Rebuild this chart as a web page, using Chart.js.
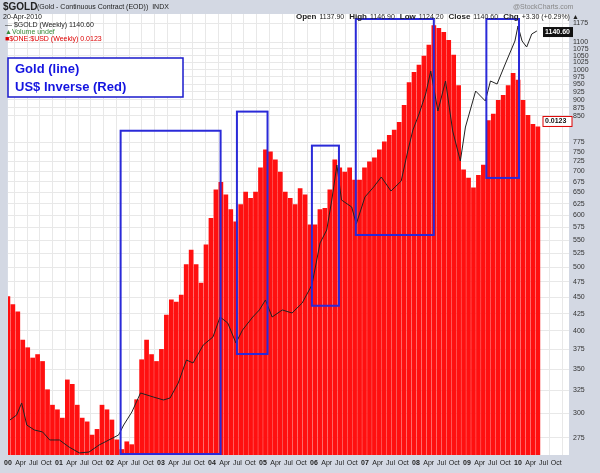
<!DOCTYPE html>
<html><head><meta charset="utf-8">
<script src="https://cdn.jsdelivr.net/npm/chart.js@4"></script>
<style>html,body{margin:0;padding:0;background:#d3d8e3}#w{width:600px;height:473px;position:relative}</style>
</head><body><div id="w"><canvas id="c" width="600" height="473"></canvas></div>
<script>
// Gold weekly close — dates as fractional years
const goldDates = [2000.04,2000.17,2000.27,2000.37,2000.52,2000.68,2000.82,2001.01,2001.20,2001.40,2001.59,2001.79,2001.98,2002.17,2002.27,2002.43,2002.60,2002.85,2003.05,2003.18,2003.34,2003.50,2003.63,2003.83,2004.02,2004.16,2004.31,2004.47,2004.60,2004.80,2004.93,2005.05,2005.18,2005.38,2005.57,2005.77,2005.96,2006.12,2006.25,2006.35,2006.45,2006.54,2006.74,2006.83,2007.00,2007.17,2007.32,2007.51,2007.71,2007.84,2007.94,2008.06,2008.19,2008.29,2008.43,2008.58,2008.72,2008.87,2008.97,2009.17,2009.36,2009.46,2009.59,2009.75,2009.94,2010.00,2010.08,2010.17,2010.27,2010.37];
const goldValues = [292.8,297.9,310.8,287.7,282.7,280.8,273.0,273.0,266.3,260.9,261.7,268.3,273.0,277.8,287.7,301.1,321.9,317.4,314.1,316.3,333.4,361.3,357.6,380.8,391.7,420.1,411.4,383.5,401.4,420.1,430.6,445.9,420.1,430.6,426.0,441.3,470.0,544.6,569.8,633.1,715.6,633.1,617.7,582.0,639.8,662.5,686.2,653.3,676.6,751.7,809.1,855.8,917.9,995.0,864.8,960.7,806.3,725.8,817.6,927.5,895.7,960.7,950.6,1019.6,1105.3,1165,1105.3,1082.2,1132.7,1144.8];
// $ONE:$USD in units of 0.0001, one bar every ~5 weeks from Jan 2000
const usdInvValues = [98.5,97.5,96.6,93.2,92.3,91.1,91.5,90.7,87.5,85.8,85.3,84.4,88.6,88.1,85.8,84.4,84.0,82.6,83.2,85.8,85.3,84.2,82.1,81.1,81.9,81.6,86.4,90.9,93.2,91.5,90.7,92.1,96.2,98.1,97.8,98.7,102.6,104.5,102.6,100.2,105.2,108.8,112.8,113.9,112.1,110.0,108.3,110.7,112.5,111.6,112.5,116.0,118.7,118.4,117.2,115.4,112.5,111.6,110.7,113.0,112.1,107.9,107.9,110.0,110.2,112.8,117.2,116.0,115.4,116.0,114.2,114.2,116.0,116.9,117.5,118.7,119.9,120.9,121.7,122.9,125.6,129.3,131.0,132.2,133.7,135.6,139.0,138.5,137.8,136.4,133.9,128.8,115.7,114.5,113.1,114.9,116.4,123.2,124.2,126.4,127.2,128.8,130.8,129.7,126.4,124.0,122.6,122.2];
const startYear = 2000, redStep = 0.0971;
const redAxisMin = 80.5, redAxisMax = 141.0;
const yearLabels = ["00","01","02","03","04","05","06","07","08","09","10"];
const monthLabels = ["Apr","Jul","Oct"];
const goldTicks = [275,300,325,350,375,400,425,450,475,500,525,550,575,600,625,650,675,700,725,750,775,850,875,900,925,950,975,1000,1025,1050,1075,1100,1175];
// highlight boxes: [x from, x to, gold low, gold high]
const boxes = [[2002.21,2004.17,259,807],[2004.49,2005.09,369,863],[2005.96,2006.49,437,766],[2006.82,2008.35,560,1215],[2009.38,2010.02,684,1215]];

const goldPts = goldValues.map((v,i)=>({x:goldDates[i],y:v}));
const redPts = usdInvValues.map((v,i)=>({x:startYear+i*redStep,y:[redAxisMin,v]}));
const quarterTicks=[];for(let q=0;q<44;q++)quarterTicks.push(startYear+q/4);

const deco={id:'deco',
 beforeDraw(ch){const a=ch.chartArea,c=ch.ctx;c.save();c.fillStyle='#fff';c.fillRect(a.left,a.top,a.right-a.left,a.bottom-a.top);c.restore();},
 afterDatasetsDraw(ch){const c=ch.ctx,x=ch.scales.x,y=ch.scales.y,a=ch.chartArea;c.save();
  c.strokeStyle='#2a2ad8';c.lineWidth=2;
  boxes.forEach(b=>{const l=x.getPixelForValue(b[0]),r=x.getPixelForValue(b[1]),t=Math.max(y.getPixelForValue(b[3]),a.top+5),bt=Math.min(y.getPixelForValue(b[2]),a.bottom-1);c.strokeRect(l,t,r-l,bt-t);});
  c.fillStyle='#fff';c.fillRect(8,58,175,39);c.strokeStyle='#1a1acc';c.lineWidth=1.5;c.strokeRect(8,58,175,39);
  c.fillStyle='#1414e0';c.font='bold 13px Arial, "Liberation Sans"';c.textBaseline='middle';
  c.fillText('Gold (line)',15,69);c.fillText('US$ Inverse (Red)',15,87);
  c.fillStyle='#222';c.font='bold 10px "Liberation Sans"';c.fillText('$GOLD',3,7);
  c.font='7px "Liberation Sans"';c.fillText('(Gold - Continuous Contract (EOD))  INDX',37,7);
  c.fillText('20-Apr-2010',3,17);c.fillStyle='#888';c.fillText('@StockCharts.com',513,7);
  c.fillStyle='#222';let px=296;
  [['Open','1137.90'],['High','1146.90'],['Low','1124.20'],['Close','1140.60'],['Chg','+3.30 (+0.29%) \u25B2']].forEach(p=>{c.font='bold 8px "Liberation Sans"';c.fillText(p[0],px,17);px+=c.measureText(p[0]).width+3;c.font='7px "Liberation Sans"';c.fillText(p[1],px,17);px+=c.measureText(p[1]).width+5;});
  c.font='7px "Liberation Sans"';c.fillText('\u2014 $GOLD (Weekly) 1140.60',5,25);c.fillStyle='#3a8a3a';c.fillText('\u25B2Volume undef',5,32);c.fillStyle='#d00';c.fillText('\u25A0$ONE:$USD (Weekly) 0.0123',5,39);
  const gy=y.getPixelForValue(1140.6);c.fillStyle='#111';c.fillRect(543,gy-5,30,10);c.fillStyle='#fff';c.font='bold 7px "Liberation Sans"';c.fillText('1140.60',545,gy);
  const ry=ch.scales.r.getPixelForValue(123);c.fillStyle='#fff';c.fillRect(543,ry-5,29,10);c.strokeStyle='#d00';c.lineWidth=1;c.strokeRect(543,ry-5,29,10);c.fillStyle='#111';c.fillText('0.0123',545,ry);
  c.restore();}};

new Chart(document.getElementById('c'),{
 data:{datasets:[
  {type:'line',data:goldPts,borderColor:'#222',borderWidth:1,pointRadius:0,tension:0,yAxisID:'y',order:0},
  {type:'bar',data:redPts,backgroundColor:'#ff1010',borderWidth:0,barPercentage:0.95,categoryPercentage:1,yAxisID:'r',order:1}
 ]},
 options:{responsive:false,animation:false,events:[],
  layout:{padding:{left:3,top:14,right:0,bottom:0}},
  plugins:{legend:{display:false},tooltip:{enabled:false}},
  scales:{
   x:{type:'linear',min:2000,max:2011,offset:false,
     afterBuildTicks(s){s.ticks=quarterTicks.map(v=>({value:v}));},
     grid:{color:'#e8e8e8',drawTicks:false},border:{display:false},
     ticks:{autoSkip:false,maxRotation:0,padding:4,color:'#222',font:(ctx)=>({size:7,weight:(ctx.tick&&Math.abs(ctx.tick.value-Math.round(ctx.tick.value))<0.01)?'bold':'normal',family:'Liberation Sans'}),
      callback:(v)=>{const q=Math.round((v-startYear)*4);return q%4===0?yearLabels[q/4]:monthLabels[q%4-1];}},
     afterFit(s){s.height=18;}},
   y:{type:'logarithmic',position:'right',min:259,max:1215,
     afterBuildTicks(s){s.ticks=goldTicks.map(v=>({value:v}));},
     grid:{color:'#e8e8e8',drawTicks:false},border:{display:false},
     ticks:{autoSkip:false,padding:4,color:'#333',font:{size:7,family:'Liberation Sans'},callback:v=>String(v)},
     afterFit(s){s.width=31;}},
   r:{type:'logarithmic',position:'left',display:true,min:redAxisMin,max:redAxisMax,
     grid:{display:false},border:{display:false},ticks:{display:false},afterFit(s){s.width=0;}}
  }},
 plugins:[deco]});
</script></body></html>
